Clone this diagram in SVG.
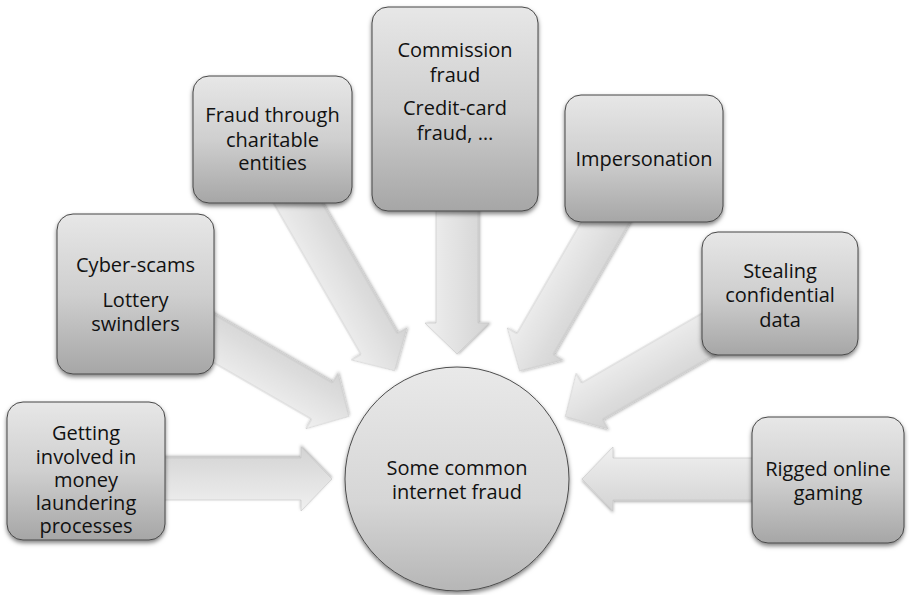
<svg xmlns="http://www.w3.org/2000/svg" width="909" height="595" viewBox="0 0 909 595">
  <defs>
    <linearGradient id="boxFill" x1="0" y1="0" x2="0" y2="1">
      <stop offset="0" stop-color="#e7e7e7"/>
      <stop offset="0.5" stop-color="#cfcfcf"/>
      <stop offset="1" stop-color="#a6a6a6"/>
    </linearGradient>
    <linearGradient id="hubFill" x1="0" y1="0" x2="0" y2="1">
      <stop offset="0" stop-color="#e9e9e9"/>
      <stop offset="0.6" stop-color="#d6d6d6"/>
      <stop offset="1" stop-color="#b6b6b6"/>
    </linearGradient>
    <linearGradient id="arrowFill" gradientUnits="userSpaceOnUse" x1="0" y1="-32" x2="0" y2="32">
      <stop offset="0" stop-color="#f0f0f0"/>
      <stop offset="1" stop-color="#d3d3d3"/>
    </linearGradient>
    <filter id="shadow" x="-20%" y="-20%" width="140%" height="140%">
      <feDropShadow dx="0" dy="2.5" stdDeviation="2" flood-color="#000" flood-opacity="0.5"/>
    </filter>
    <filter id="arrowShadow" x="-20%" y="-20%" width="140%" height="140%">
      <feDropShadow dx="0" dy="1.5" stdDeviation="1.5" flood-color="#000" flood-opacity="0.35"/>
    </filter>
    <!-- block arrow pointing toward the origin along -x, tip 125px from it -->
    <polygon id="arrow" points="125,0 156,-32 156,-21 340,-21 340,21 156,21 156,32"/>
  </defs>
  <style>
    .box { fill: url(#boxFill); stroke: #474747; stroke-width: 1; filter: url(#shadow); }
    .hub { fill: url(#hubFill); stroke: #4d4d4d; stroke-width: 1; filter: url(#shadow); }
    .arr { fill: url(#arrowFill); stroke: #c4c4c4; stroke-width: 0.6; filter: url(#arrowShadow); }
    text { font-family: "Open Sans", Lato, "Liberation Sans", sans-serif; font-size: 20px; fill: #111; text-anchor: middle; }
  </style>

  <rect width="909" height="595" fill="#ffffff"/>

  <g id="connectors" transform="translate(457,479)">
    <use href="#arrow" class="arr" transform="rotate(180)"/>
    <use href="#arrow" class="arr" transform="rotate(-150)"/>
    <use href="#arrow" class="arr" transform="rotate(-120)"/>
    <use href="#arrow" class="arr" transform="rotate(-90)"/>
    <use href="#arrow" class="arr" transform="rotate(-60)"/>
    <use href="#arrow" class="arr" transform="rotate(-30)"/>
    <use href="#arrow" class="arr" transform="rotate(0)"/>
  </g>

  <g id="hub">
    <circle class="hub" cx="457" cy="479" r="112"/>
    <text x="457" y="475">Some common</text>
    <text x="457" y="499">internet fraud</text>
  </g>

  <g id="money-laundering">
    <rect class="box" x="7" y="402" width="158" height="138" rx="16"/>
    <text x="86" y="440">Getting</text>
    <text x="86" y="464">involved in</text>
    <text x="86" y="487">money</text>
    <text x="86" y="510">laundering</text>
    <text x="86" y="533">processes</text>
  </g>

  <g id="cyber-scams">
    <rect class="box" x="57" y="214" width="157" height="160" rx="16"/>
    <text x="135.5" y="272">Cyber-scams</text>
    <text x="135.5" y="307">Lottery</text>
    <text x="135.5" y="331">swindlers</text>
  </g>

  <g id="charitable-entities">
    <rect class="box" x="193" y="76" width="159" height="127" rx="16"/>
    <text x="272.5" y="122">Fraud through</text>
    <text x="272.5" y="147">charitable</text>
    <text x="272.5" y="170">entities</text>
  </g>

  <g id="commission-fraud">
    <rect class="box" x="372" y="7" width="166" height="204" rx="16"/>
    <text x="455" y="57">Commission</text>
    <text x="455" y="82">fraud</text>
    <text x="455" y="115">Credit-card</text>
    <text x="455" y="140">fraud, …</text>
  </g>

  <g id="impersonation">
    <rect class="box" x="565" y="95" width="158" height="127" rx="16"/>
    <text x="644" y="166">Impersonation</text>
  </g>

  <g id="confidential-data">
    <rect class="box" x="702" y="232" width="156" height="123" rx="16"/>
    <text x="780" y="278">Stealing</text>
    <text x="780" y="302">confidential</text>
    <text x="780" y="327">data</text>
  </g>

  <g id="rigged-gaming">
    <rect class="box" x="752" y="417" width="152" height="126" rx="16"/>
    <text x="828" y="476">Rigged online</text>
    <text x="828" y="500">gaming</text>
  </g>
</svg>
